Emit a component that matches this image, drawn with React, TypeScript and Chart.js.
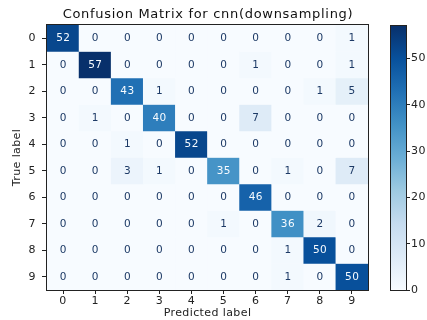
import React, { useEffect, useRef } from 'react';
import { Chart, registerables } from 'chart.js';

Chart.register(...registerables);
Chart.defaults.font.family = "'DejaVu Sans', sans-serif";

const chartTitle = 'Confusion Matrix for cnn(downsampling)';
const xAxisTitle = 'Predicted label';
const yAxisTitle = 'True label';
const classLabels = ['0', '1', '2', '3', '4', '5', '6', '7', '8', '9'];

const row0 = [52, 0, 0, 0, 0, 0, 0, 0, 0, 1];
const row1 = [0, 57, 0, 0, 0, 0, 1, 0, 0, 1];
const row2 = [0, 0, 43, 1, 0, 0, 0, 0, 1, 5];
const row3 = [0, 1, 0, 40, 0, 0, 7, 0, 0, 0];
const row4 = [0, 0, 1, 0, 52, 0, 0, 0, 0, 0];
const row5 = [0, 0, 3, 1, 0, 35, 0, 1, 0, 7];
const row6 = [0, 0, 0, 0, 0, 0, 46, 0, 0, 0];
const row7 = [0, 0, 0, 0, 0, 1, 0, 36, 2, 0];
const row8 = [0, 0, 0, 0, 0, 0, 0, 1, 50, 0];
const row9 = [0, 0, 0, 0, 0, 0, 0, 1, 0, 50];
const confusionRows = [row0, row1, row2, row3, row4, row5, row6, row7, row8, row9];

const colorMin = 0;
const colorMax = 57;
const colorbarTicks = [0, 10, 20, 30, 40, 50];

const bluesStops = ['#f7fbff', '#deebf7', '#c6dbef', '#9ecae1', '#6baed6', '#4292c6', '#2171b5', '#08519c', '#08306b'];

function hexToRgb(h: string) {
  return [parseInt(h.slice(1, 3), 16), parseInt(h.slice(3, 5), 16), parseInt(h.slice(5, 7), 16)];
}

function blues(t: number) {
  const c = Math.max(0, Math.min(1, t));
  const pos = c * (bluesStops.length - 1);
  const i = Math.min(Math.floor(pos), bluesStops.length - 2);
  const f = pos - i;
  const a = hexToRgb(bluesStops[i]);
  const b = hexToRgb(bluesStops[i + 1]);
  const m = a.map((v, k) => Math.round(v + (b[k] - v) * f));
  return `rgb(${m[0]},${m[1]},${m[2]})`;
}

const norm = (v: number) => (v - colorMin) / (colorMax - colorMin);

const spacingPlugin = {
  id: 'spacing',
  beforeDraw(chart: any) {
    (chart.ctx as any).letterSpacing = '0.4px';
  },
};

const frameAndTextPlugin = {
  id: 'frameAndText',
  afterDatasetsDraw(chart: any) {
    const ctx = chart.ctx;
    ctx.save();
    ctx.font = "10.5px 'DejaVu Sans'";
    (ctx as any).letterSpacing = '0.4px';
    ctx.textAlign = 'center';
    ctx.textBaseline = 'middle';
    const thresh = (colorMax + colorMin) / 2;
    confusionRows.forEach((row, r) => {
      const meta = chart.getDatasetMeta(r);
      meta.data.forEach((el: any, c: number) => {
        const p = el.getProps(['x', 'y', 'base'], true);
        const v = row[c];
        ctx.fillStyle = v > thresh ? '#f7fbff' : '#1d3a66';
        ctx.fillText(String(v), p.x + 0.2, (p.y + p.base) / 2 + 0.5);
      });
    });
    ctx.restore();
  },
  afterDraw(chart: any) {
    const { ctx, chartArea } = chart;
    ctx.save();
    ctx.strokeStyle = '#222';
    ctx.lineWidth = 1;
    ctx.strokeRect(
      Math.round(chartArea.left) - 0.5,
      Math.round(chartArea.top) - 0.5,
      Math.round(chartArea.right - chartArea.left) + 1,
      Math.round(chartArea.bottom - chartArea.top) + 1
    );
    ctx.fillStyle = '#111';
    ctx.font = "13px 'DejaVu Sans'";
    (ctx as any).letterSpacing = '0.7px';
    ctx.textAlign = 'center';
    ctx.textBaseline = 'middle';
    ctx.fillText(chartTitle, (chartArea.left + chartArea.right) / 2 + 0.5, 15);
    ctx.restore();
  },
};

const cbFramePlugin = {
  id: 'cbFrame',
  afterDraw(chart: any) {
    const { ctx, chartArea } = chart;
    ctx.save();
    ctx.strokeStyle = '#222';
    ctx.lineWidth = 1;
    ctx.strokeRect(
      Math.round(chartArea.left) - 0.5,
      Math.round(chartArea.top) - 0.5,
      Math.round(chartArea.right - chartArea.left) + 1,
      Math.round(chartArea.bottom - chartArea.top) + 1
    );
    ctx.restore();
  },
};

export default function App() {
  const mainRef = useRef<HTMLCanvasElement | null>(null);
  const cbRef = useRef<HTMLCanvasElement | null>(null);

  useEffect(() => {
    if (!mainRef.current || !cbRef.current) return;

    const datasets = confusionRows.map((row, r) => ({
      label: `true ${classLabels[r]}`,
      data: row.map(() => [r, r + 1]),
      backgroundColor: row.map((v) => blues(norm(v))),
      borderWidth: 0,
      grouped: false,
      barPercentage: 1,
      categoryPercentage: 1,
    }));

    const tickFont = { size: 11 };
    const main = new Chart(mainRef.current, {
      type: 'bar',
      data: { labels: classLabels, datasets: datasets as any },
      plugins: [spacingPlugin, frameAndTextPlugin],
      options: {
        responsive: false,
        animation: false,
        events: [],
        layout: { padding: { top: 25, right: 59, left: 0, bottom: 0 } },
        plugins: { legend: { display: false }, tooltip: { enabled: false }, title: { display: false } },
        scales: {
          x: {
            type: 'category',
            grid: { display: true, drawOnChartArea: false, drawTicks: true, tickLength: 4, offset: false, color: '#222' },
            border: { display: false },
            ticks: { font: tickFont, color: '#222', padding: 1, maxRotation: 0, autoSkip: false },
            title: { display: true, text: xAxisTitle, font: { size: 11 }, color: '#222', padding: { top: 0, bottom: 0 } },
            afterFit: (s: any) => { s.height = 30; },
          },
          y: {
            type: 'linear',
            min: 0,
            max: classLabels.length,
            reverse: true,
            afterBuildTicks: (s: any) => { s.ticks = classLabels.map((_, i) => ({ value: i + 0.5 })); },
            grid: { display: true, drawOnChartArea: false, drawTicks: true, tickLength: 5, color: '#222' },
            border: { display: false },
            ticks: {
              font: tickFont,
              color: '#222',
              padding: 6,
              callback: (v: any) => classLabels[Math.floor(Number(v))],
            },
            title: { display: true, text: yAxisTitle, font: { size: 11 }, color: '#222', padding: { top: 11, bottom: 0 } },
            afterFit: (s: any) => { s.width = 47; },
          },
        },
      } as any,
    });

    const cb = new Chart(cbRef.current, {
      type: 'bar',
      data: {
        labels: [''],
        datasets: [
          {
            data: [[colorMin, colorMax]] as any,
            backgroundColor: (c: any) => {
              const area = c.chart.chartArea;
              if (!area) return bluesStops[0];
              const g = c.chart.ctx.createLinearGradient(0, area.bottom, 0, area.top);
              bluesStops.forEach((s, i) => g.addColorStop(i / (bluesStops.length - 1), s));
              return g;
            },
            borderWidth: 0,
            barPercentage: 1,
            categoryPercentage: 1,
          },
        ],
      },
      plugins: [spacingPlugin, cbFramePlugin],
      options: {
        responsive: false,
        animation: false,
        events: [],
        layout: { padding: { top: 26, right: 0, left: 11, bottom: 30 } },
        plugins: { legend: { display: false }, tooltip: { enabled: false } },
        scales: {
          x: { display: false },
          y: {
            type: 'linear',
            position: 'right',
            min: colorMin,
            max: colorMax,
            afterBuildTicks: (s: any) => { s.ticks = colorbarTicks.map((v) => ({ value: v })); },
            grid: { display: true, drawOnChartArea: false, drawTicks: true, tickLength: 4, color: '#222' },
            border: { display: false },
            ticks: { font: tickFont, color: '#222', padding: 1 },
            afterFit: (s: any) => { s.width = 21; },
          },
        },
      } as any,
    });

    return () => {
      main.destroy();
      cb.destroy();
    };
  }, []);

  return (
    <div style={{ position: 'fixed', left: 0, top: 0, width: 427, height: 320, background: '#fff', overflow: 'hidden' }}>
      <canvas ref={mainRef} width={427} height={320} style={{ position: 'absolute', left: 0, top: 0 }} />
      <canvas ref={cbRef} width={47} height={320} style={{ position: 'absolute', left: 380, top: 0 }} />
    </div>
  );
}
